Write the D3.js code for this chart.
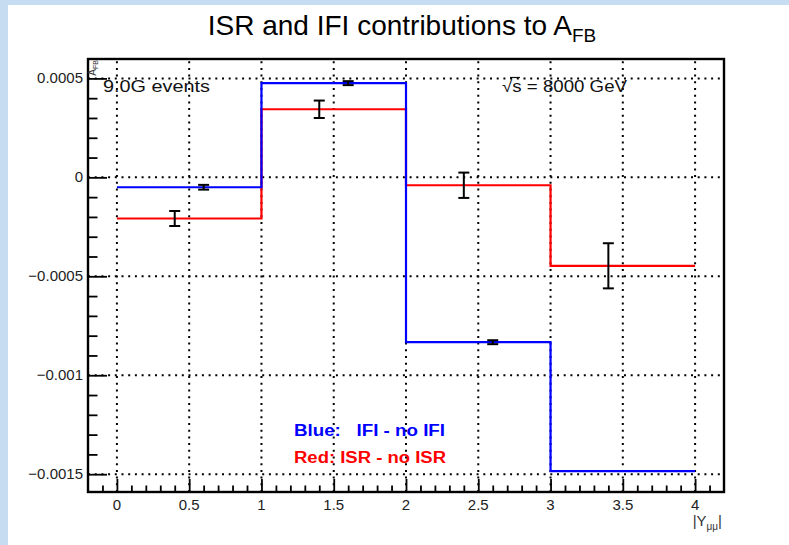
<!DOCTYPE html>
<html>
<head>
<meta charset="utf-8">
<script src="https://cdn.jsdelivr.net/npm/d3@7"></script>
<style>
  html, body { margin: 0; padding: 0; background: #ffffff; }
  svg { display: block; }
  text { font-family: "Liberation Sans", Arial, Helvetica, sans-serif; }
</style>
</head>
<body>
<svg id="chart" width="789" height="545"></svg>
<script>
// Bin edges along |Y_mumu|
const binEdges = [0, 1, 2, 3, 4];

// Blue: IFI - no IFI
const blueValues = [-0.00005, 0.000476, -0.000833, -0.001485];
const blueErrors = [0.000012, 0.00001, 0.00001, null];

// Red: ISR - no ISR
const redValues = [-0.000208, 0.000344, -0.00004, -0.000447];
const redErrors = [0.000038, 0.000044, 0.000064, 0.000114];

// Axis ticks
const xTicks = [0, 0.5, 1, 1.5, 2, 2.5, 3, 3.5, 4];
const xTickLabels = ["0", "0.5", "1", "1.5", "2", "2.5", "3", "3.5", "4"];
const yTicks = [0.0005, 0, -0.0005, -0.001, -0.0015];
const yTickLabels = ["0.0005", "0", "\u22120.0005", "\u22120.001", "\u22120.0015"];

const svg = d3.select("#chart");
const W = 789, H = 545;

// Frame
const frame = { left: 88, right: 724, top: 59, bottom: 492 };

const x = d3.scaleLinear().domain([-0.2, 4.2]).range([frame.left, frame.right]);
const y = d3.scaleLinear().domain([-0.00159, 0.000598]).range([frame.bottom, frame.top]);

// Window background with blue strips on the top and left
svg.append("rect").attr("x", 0).attr("y", 0).attr("width", W).attr("height", H).attr("fill", "#c6dcf0");
svg.append("rect").attr("x", 8).attr("y", 5).attr("width", W - 8).attr("height", H - 5).attr("fill", "#ffffff");

// Dotted grid
const grid = svg.append("g").attr("stroke", "#000").attr("stroke-width", 2)
  .attr("stroke-dasharray", "2,4.7").attr("fill", "none");
xTicks.forEach(t => {
  grid.append("line").attr("x1", x(t)).attr("x2", x(t))
    .attr("y1", frame.bottom).attr("y2", frame.top);
});
yTicks.forEach(t => {
  grid.append("line").attr("x1", frame.left).attr("x2", frame.right)
    .attr("y1", y(t)).attr("y2", y(t));
});

// Step histograms
function stepPoints(vals) {
  const pts = vals.map((v, i) => [binEdges[i], v]);
  pts.push([binEdges[binEdges.length - 1], vals[vals.length - 1]]);
  return pts;
}
const step = d3.line().x(d => x(d[0])).y(d => y(d[1])).curve(d3.curveStepAfter);

svg.append("path").datum(stepPoints(redValues)).attr("d", step)
  .attr("fill", "none").attr("stroke", "#ff0000").attr("stroke-width", 2.2);
svg.append("path").datum(stepPoints(blueValues)).attr("d", step)
  .attr("fill", "none").attr("stroke", "#0000ff").attr("stroke-width", 2.2);

// Error bars
function errorBars(vals, errs, offset) {
  const g = svg.append("g").attr("stroke", "#000").attr("stroke-width", 2).attr("fill", "none");
  vals.forEach((v, i) => {
    const e = errs[i];
    if (e === null) return;
    const cx = x(binEdges[i] + offset);
    const y1 = y(v + e), y2 = y(v - e);
    g.append("line").attr("x1", cx).attr("x2", cx).attr("y1", y1).attr("y2", y2);
    g.append("line").attr("x1", cx - 5.5).attr("x2", cx + 5.5).attr("y1", y1).attr("y2", y1);
    g.append("line").attr("x1", cx - 5.5).attr("x2", cx + 5.5).attr("y1", y2).attr("y2", y2);
  });
}
errorBars(redValues, redErrors, 0.4);
errorBars(blueValues, blueErrors, 0.6);

// Axes with major and minor ticks drawn inward
const xAxis = d3.axisTop(x)
  .tickValues(d3.range(-0.1, 4.15, 0.1).map(v => +v.toFixed(1)))
  .tickSize(0).tickFormat("");
const xAxisG = svg.append("g").attr("transform", `translate(0,${frame.bottom})`).call(xAxis);
xAxisG.select(".domain").remove();
xAxisG.selectAll(".tick line")
  .attr("y2", d => (Math.abs(d * 2 - Math.round(d * 2)) < 1e-6 ? -13 : -6.5))
  .attr("stroke", "#000").attr("stroke-width", 1.8);

const yMinor = d3.range(-15, 6).map(k => +(k * 0.0001).toFixed(4));
const yAxis = d3.axisRight(y).tickValues(yMinor).tickSize(0).tickFormat("");
const yAxisG = svg.append("g").attr("transform", `translate(${frame.left},0)`).call(yAxis);
yAxisG.select(".domain").remove();
yAxisG.selectAll(".tick line")
  .attr("x2", d => (Math.abs(d / 0.0005 - Math.round(d / 0.0005)) < 1e-6 ? 19 : 9.5))
  .attr("stroke", "#000").attr("stroke-width", 1.8);

// Frame border
svg.append("rect").attr("x", frame.left).attr("y", frame.top)
  .attr("width", frame.right - frame.left).attr("height", frame.bottom - frame.top)
  .attr("fill", "none").attr("stroke", "#000").attr("stroke-width", 2.4);

// Tick labels
svg.append("g").selectAll("text").data(xTicks).join("text")
  .attr("x", d => x(d)).attr("y", frame.bottom + 18)
  .attr("text-anchor", "middle").attr("font-size", 15).attr("fill", "#222")
  .text((d, i) => xTickLabels[i]);
svg.append("g").selectAll("text").data(yTicks).join("text")
  .attr("x", frame.left - 5).attr("y", d => y(d) + 5)
  .attr("text-anchor", "end").attr("font-size", 15).attr("fill", "#222")
  .text((d, i) => yTickLabels[i]);

// Title
const title = svg.append("text").attr("x", 402).attr("y", 35)
  .attr("text-anchor", "middle").attr("font-size", 28).attr("fill", "#000");
title.append("tspan").text("ISR and IFI contributions to A");
title.append("tspan").attr("font-size", 19).attr("dy", 7).text("FB");

// Axis titles
const xt = svg.append("text").attr("x", frame.right - 2).attr("y", frame.bottom + 34)
  .attr("text-anchor", "end").attr("font-size", 15).attr("fill", "#333");
xt.append("tspan").text("|Y");
xt.append("tspan").attr("font-size", 10).attr("dy", 4).text("\u03bc\u03bc");
xt.append("tspan").attr("dy", -4).text("|");

const yt = svg.append("text").attr("transform", `translate(96,${frame.top + 1}) rotate(-90)`)
  .attr("text-anchor", "end").attr("font-size", 10).attr("fill", "#333");
yt.append("tspan").text("A");
yt.append("tspan").attr("font-size", 7).attr("dy", 2).text("FB");

// In-frame annotations
svg.append("text").attr("x", 103).attr("y", 92).attr("font-size", 16)
  .attr("fill", "#111").attr("textLength", 107).attr("lengthAdjust", "spacingAndGlyphs")
  .text("9.0G events");

svg.append("text").attr("x", 502).attr("y", 92).attr("font-size", 16)
  .attr("fill", "#111").attr("textLength", 125).attr("lengthAdjust", "spacingAndGlyphs")
  .text("\u221as = 8000 GeV");
svg.append("line").attr("x1", 510).attr("x2", 520).attr("y1", 77.5).attr("y2", 77.5)
  .attr("stroke", "#111").attr("stroke-width", 1.2);

// Legend text
svg.append("text").attr("x", 294).attr("y", 436).attr("font-size", 16).attr("font-weight", "bold")
  .attr("fill", "#0000ff").attr("xml:space", "preserve")
  .attr("textLength", 151).attr("lengthAdjust", "spacingAndGlyphs")
  .text("Blue:   IFI - no IFI");
svg.append("text").attr("x", 294).attr("y", 463).attr("font-size", 16).attr("font-weight", "bold")
  .attr("fill", "#ff0000")
  .attr("textLength", 152).attr("lengthAdjust", "spacingAndGlyphs")
  .text("Red: ISR - no ISR");
</script>
</body>
</html>
